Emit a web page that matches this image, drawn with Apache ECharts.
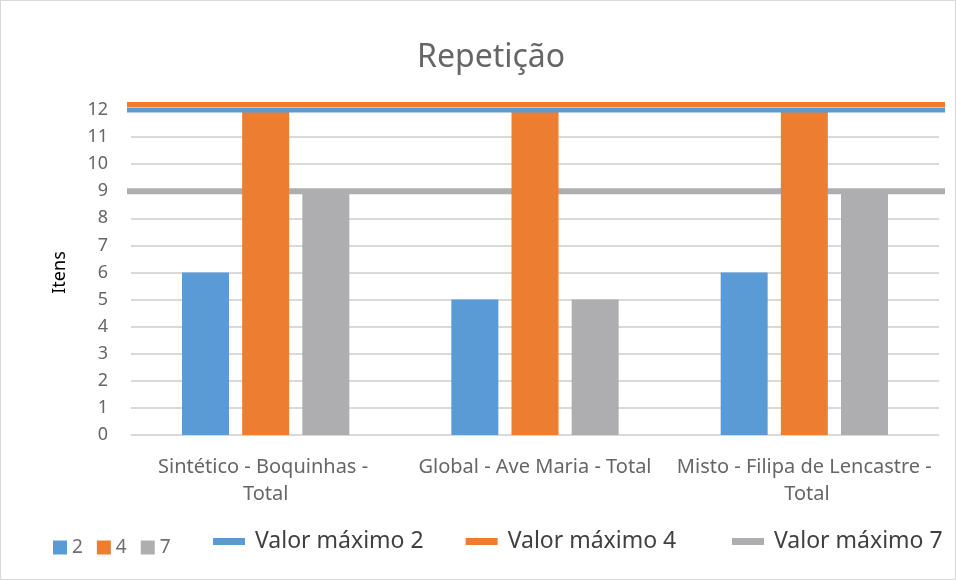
<!DOCTYPE html>
<html>
<head>
<meta charset="utf-8">
<script src="https://cdn.jsdelivr.net/npm/echarts@6/dist/echarts.min.js"></script>
<style>
  html, body { margin: 0; padding: 0; background: #fff; }
  #chart { width: 956px; height: 580px; box-sizing: border-box; border: 1px solid #d9d9d9; }
</style>
</head>
<body>
<div id="chart"></div>
<script>
const categories = ['Sintético - Boquinhas - Total', 'Global - Ave Maria - Total', 'Misto - Filipa de Lencastre - Total']
const barNames = ['2', '4', '7']
const bars2 = [6, 5, 6]
const bars4 = [12, 12, 12]
const bars7 = [9, 5, 9]
const lineNames = ['Valor máximo 2', 'Valor máximo 4', 'Valor máximo 7']
const max2 = [12, 12, 12]
const max4 = [12.2, 12.2, 12.2]
const max7 = [9, 9, 9]
const yTicks = [0, 12, 1]

const colors = ['#5B9BD5', '#ED7D31', '#AEAEB1']
const font = 'Noto Sans'

const chart = echarts.init(document.getElementById('chart'))

const barSeries = [bars2, bars4, bars7].map((d, i) => ({
  name: barNames[i],
  type: 'bar',
  data: d,
  barWidth: 47,
  barGap: '28%',
  itemStyle: { color: colors[i] },
  xAxisIndex: 0,
  yAxisIndex: 0
}))

const lineSeries = [max2, max4, max7].map((d, i) => ({
  name: lineNames[i],
  type: 'line',
  data: d,
  symbol: 'none',
  clip: false,
  lineStyle: { color: colors[i], width: i === 2 ? 6 : 5 },
  itemStyle: { color: colors[i] },
  xAxisIndex: 1,
  yAxisIndex: 1,
  z: i === 2 ? 1 : 3 - i
}))

// legend for the max lines (Excel spacing is uneven, so the last one sits on its own)
const lineLegend = (names, left) => ({
  data: names,
  left: left,
  top: 524,
  icon: 'rect',
  itemWidth: 32,
  itemHeight: 7,
  itemGap: 42,
  textStyle: { fontFamily: font, fontSize: 23, color: '#404040', padding: [0, 0, 0, 5] }
})

const options = {
  animation: false,
  textStyle: { fontFamily: font },
  title: {
    text: 'Repetição',
    left: 411,
    top: 36,
    textStyle: { fontFamily: font, fontSize: 32, fontWeight: 'normal', color: '#666' }
  },
  legend: [
    {
      data: barNames,
      left: 47,
      top: 532,
      icon: 'rect',
      itemWidth: 14,
      itemHeight: 14,
      itemGap: 14,
      textStyle: { fontFamily: font, fontSize: 19, color: '#6e6e6e' }
    },
    lineLegend(lineNames.slice(0, 2), 207),
    lineLegend(lineNames.slice(2), 726)
  ],
  grid: [
    { left: 130, right: 16, top: 109, bottom: 144 },
    { left: 126, right: 10, top: 109, bottom: 144 }
  ],
  xAxis: [
    {
      type: 'category',
      gridIndex: 0,
      data: categories,
      axisTick: { show: false },
      axisLine: { lineStyle: { color: '#d9d9d9' } },
      axisLabel: {
        color: '#666',
        fontFamily: font,
        fontSize: 20,
        lineHeight: 27,
        margin: 19,
        width: 258,
        overflow: 'break',
        interval: 0
      }
    },
    {
      type: 'category',
      gridIndex: 1,
      data: categories,
      boundaryGap: false,
      show: false
    }
  ],
  yAxis: [
    {
      type: 'value',
      gridIndex: 0,
      min: yTicks[0],
      max: yTicks[1],
      interval: yTicks[2],
      name: 'Itens',
      nameLocation: 'middle',
      nameGap: 62,
      nameTextStyle: { fontFamily: font, fontSize: 18, color: '#000' },
      axisLine: { show: false },
      axisTick: { show: false },
      axisLabel: { color: '#666', fontFamily: font, fontSize: 18, margin: 23 },
      splitLine: { lineStyle: { color: '#d9d9d9', width: 2 } }
    },
    {
      type: 'value',
      gridIndex: 1,
      min: yTicks[0],
      max: yTicks[1],
      show: false
    }
  ],
  series: [...barSeries, ...lineSeries]
}

chart.setOption(options)
window.addEventListener('resize', function () {
  chart.resize()
})
</script>
</body>
</html>
